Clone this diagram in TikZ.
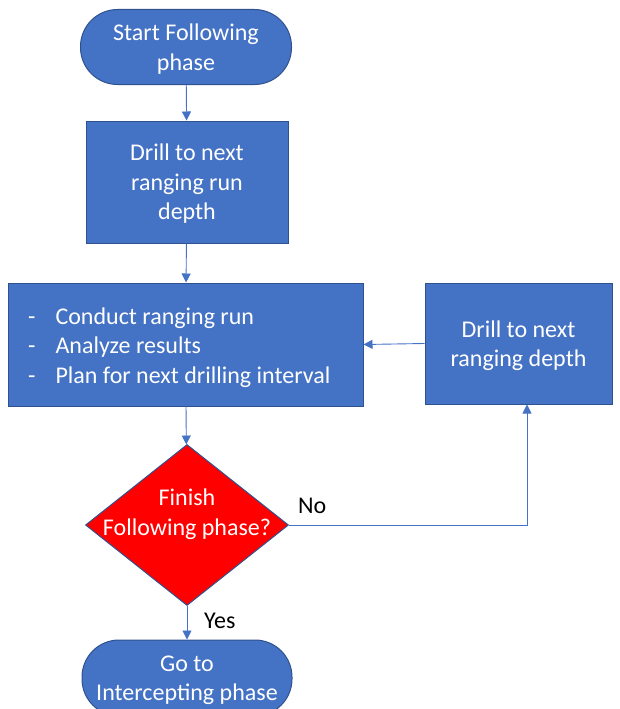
\documentclass[tikz,border=0pt]{standalone}
\usepackage{fontspec}
\setmainfont{Carlito}
\usetikzlibrary{shapes.geometric,arrows.meta}
\definecolor{obox}{HTML}{4472C4}
\definecolor{oline}{HTML}{2F528F}
\begin{document}
\begin{tikzpicture}[x=1pt,y=-1pt,
  every node/.style={font=\fontsize{24}{29.5}\selectfont},
  boxst/.style={draw=oline,line width=1pt,fill=obox,text=white,align=center,inner sep=0pt,text depth=0pt},
  termst/.style={boxst,rounded corners=37pt},
  conn/.style={draw=obox,line width=0.9pt,-{Triangle[length=9pt,width=9pt]}}]
\useasboundingbox (0,0) rectangle (619,709);
\node[termst,minimum width=211pt,minimum height=75pt] (start) at (186,47) {Start Following\\phase};
\node[boxst,minimum width=202pt,minimum height=122pt] (drill1) at (187,182) {Drill to next\\ranging run\\depth};
\node[boxst,minimum width=355pt,minimum height=123pt] (run) at (185.5,344.5) {};
\node[text=white,anchor=west,align=left,inner sep=0pt] (runtext) at (28,347.5) {-\hspace{20pt}Conduct ranging run\\-\hspace{20pt}Analyze results\\-\hspace{20pt}Plan for next drilling interval};
\node[boxst,minimum width=187pt,minimum height=121pt] (drill2) at (518.5,343.5) {Drill to next\\ranging depth};
\node[draw=oline,line width=1pt,fill=red,diamond,aspect=1.261,minimum width=203pt,minimum height=161pt,inner sep=0pt] (dec) at (187,525) {};
\node[text=white,align=center] (dectext) at (187,514) {Finish\\Following phase?};
\node[termst,minimum width=210pt,minimum height=76pt] (end) at (187,678) {Go to\\Intercepting phase};
\coordinate (corner) at (527,525);
\draw[conn] (start) -- (drill1);
\draw[conn] (drill1) -- (run);
\draw[conn] (run) -- (dec);
\draw[conn] (dec) -- (end);
\draw[conn] (drill2.west) -- (run.east);
\draw[conn] (dec.east) -- (corner) -- (drill2.south -| corner);
\node[anchor=west,inner sep=0pt] (no) at (298,506) {No};
\node[anchor=west,inner sep=0pt] (yes) at (204,621) {Yes};
\end{tikzpicture}
\end{document}
